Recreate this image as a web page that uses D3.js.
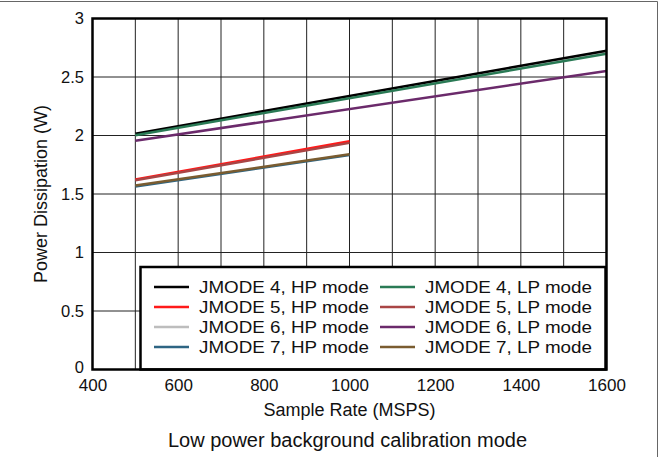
<!DOCTYPE html>
<html><head><meta charset="utf-8">
<script src="https://cdn.jsdelivr.net/npm/d3@7"></script>
<style>body{margin:0;background:#fff}svg{display:block;font-family:"Liberation Sans",Arial,sans-serif}</style>
</head><body><svg id="c" width="660" height="457"></svg>
<script>
const seriesNames = ["JMODE 4, HP mode","JMODE 5, HP mode","JMODE 6, HP mode","JMODE 7, HP mode",
                     "JMODE 4, LP mode","JMODE 5, LP mode","JMODE 6, LP mode","JMODE 7, LP mode"];
const seriesColors = ["#000000","#ff1a1a","#bdbdbd","#2e6583","#2a7a55","#a94545","#6b2a6b","#7a5c30"];
const rateLong = [500, 1600];
const rateShort = [500, 1000];
const j4hp = [2.015, 2.725];
const j5hp = [1.625, 1.950];
const j6hp = [2.008, 2.712];
const j7hp = [1.565, 1.834];
const j4lp = [2.003, 2.698];
const j5lp = [1.617, 1.937];
const j6lp = [1.955, 2.552];
const j7lp = [1.572, 1.840];
const seriesX = [rateLong, rateShort, rateLong, rateShort, rateLong, rateShort, rateLong, rateShort];
const seriesY = [j4hp, j5hp, j6hp, j7hp, j4lp, j5lp, j6lp, j7lp];
const xTicks = [400,600,800,1000,1200,1400,1600];
const yTicks = [0,0.5,1,1.5,2,2.5,3];
const xGrid = [500,600,700,800,900,1000,1100,1200,1300,1400,1500];

const svg = d3.select("#c");
// outer frame (top and right)
svg.append("line").attr("x1",0).attr("x2",657.5).attr("y1",1.5).attr("y2",1.5).attr("stroke","#666").attr("stroke-width",1);
svg.append("line").attr("x1",657.5).attr("x2",657.5).attr("y1",1.5).attr("y2",457).attr("stroke","#666").attr("stroke-width",1);

const L=92.5, R=606.5, T=18.5, B=369.5;
const x = d3.scaleLinear().domain([400,1600]).range([L,R]);
const y = d3.scaleLinear().domain([0,3]).range([B,T]);

const g = svg.append("g");
// grid
g.selectAll(".vg").data(xGrid).enter().append("line")
  .attr("x1",d=>x(d)).attr("x2",d=>x(d)).attr("y1",T).attr("y2",B)
  .attr("stroke","#222").attr("stroke-width",1);
g.selectAll(".hg").data(yTicks.filter(d=>d>0&&d<3)).enter().append("line")
  .attr("x1",L).attr("x2",R).attr("y1",d=>y(d)).attr("y2",d=>y(d))
  .attr("stroke","#222").attr("stroke-width",1);

// lines
const line = d3.line().x(d=>x(d[0])).y(d=>y(d[1]));
const order = [2,0,4,3,7,1,5,6];
order.forEach(i=>{
  const pts = seriesX[i].map((v,k)=>[v, seriesY[i][k]]);
  g.append("path").attr("d",line(pts)).attr("fill","none")
   .attr("stroke",seriesColors[i]).attr("stroke-width",2.5);
});

// axes
const xAxis = d3.axisBottom(x).tickValues(xTicks).tickSize(0).tickPadding(9).tickFormat(d3.format("d"));
const ax = svg.append("g").attr("transform",`translate(0,${B})`).call(xAxis);
ax.select(".domain").remove();
ax.selectAll("text").attr("font-size",17).attr("fill","#111").attr("font-family","Liberation Sans, Arial, sans-serif");
const yAxis = d3.axisLeft(y).tickValues(yTicks).tickSize(0).tickPadding(8.5).tickFormat(d=>String(d));
const ay = svg.append("g").attr("transform",`translate(${L},0)`).call(yAxis);
ay.select(".domain").remove();
ay.selectAll("text").attr("font-size",16.5).attr("fill","#111").attr("font-family","Liberation Sans, Arial, sans-serif");
ay.selectAll("text").filter(d=>d===0).attr("dy","0.2em");

// legend
const lg = svg.append("g");
const lx0=140.5, ly0=267, lx1=605.5;
lg.append("rect").attr("x",lx0).attr("y",ly0).attr("width",lx1-lx0).attr("height",B-ly0)
  .attr("fill","#fff").attr("stroke","#000").attr("stroke-width",2.5);
const colX = [154, 380];
const colW = [170, 167];
seriesNames.forEach((n,i)=>{
  const col = Math.floor(i/4), row = i%4;
  const cy = 287 + row*20;
  lg.append("line").attr("x1",colX[col]).attr("x2",colX[col]+35).attr("y1",cy).attr("y2",cy)
    .attr("stroke",seriesColors[i]).attr("stroke-width",2.5);
  lg.append("text").attr("x",colX[col]+45).attr("y",cy+6).attr("font-size",16.5).attr("fill","#111")
    .attr("textLength",colW[col]).attr("lengthAdjust","spacingAndGlyphs").text(n);
});

// plot frame
svg.append("rect").attr("x",L).attr("y",T).attr("width",R-L).attr("height",B-T)
  .attr("fill","none").attr("stroke","#000").attr("stroke-width",2.5);

// titles
svg.append("text").attr("x",(L+R)/2).attr("y",416).attr("text-anchor","middle").attr("font-size",18).attr("fill","#111").text("Sample Rate (MSPS)");
svg.append("text").attr("transform",`translate(47,${(T+B)/2}) rotate(-90)`).attr("text-anchor","middle").attr("font-size",18).attr("fill","#111").text("Power Dissipation (W)");
svg.append("text").attr("x",(L+R)/2-2).attr("y",447).attr("text-anchor","middle").attr("font-size",20).attr("fill","#111").text("Low power background calibration mode");
</script></body></html>
